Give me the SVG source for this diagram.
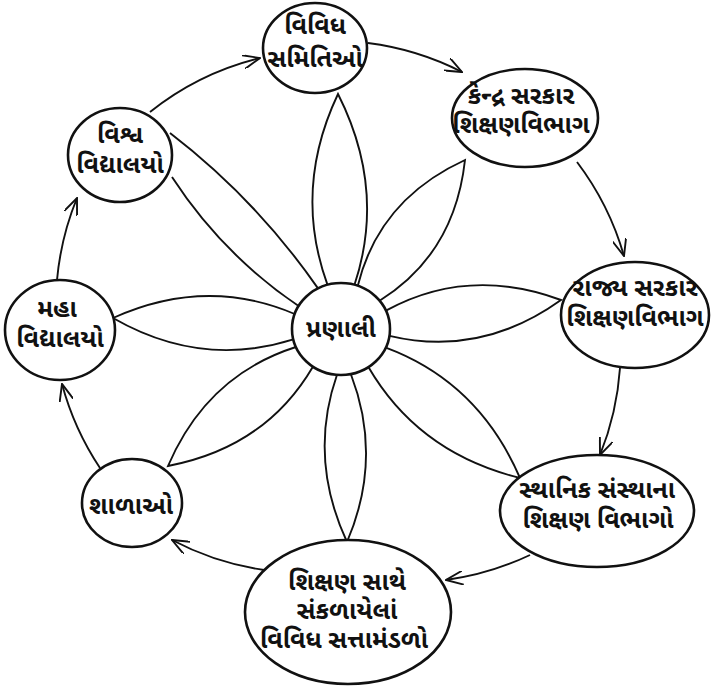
<svg xmlns="http://www.w3.org/2000/svg" width="715" height="691" viewBox="0 0 715 691">
<defs>
<marker id="arr" markerUnits="userSpaceOnUse" viewBox="0 0 18 14" refX="17" refY="7" markerWidth="18" markerHeight="14" orient="auto">
<path d="M0,0 L17,7 L0,14" fill="none" stroke="#111" stroke-width="1.9"/>
</marker>
</defs>
<style>
.bg{fill:#fff}
.node{fill:#fff;stroke:#111;stroke-width:2.6}
.petal{fill:none;stroke:#111;stroke-width:1.9}
.ring{fill:none;stroke:#111;stroke-width:1.9;marker-end:url(#arr)}
.t{font-family:"Noto Sans Gujarati","Lohit Gujarati","Noto Sans","DejaVu Sans",sans-serif;font-size:25px;font-weight:700;fill:#111;text-anchor:middle}
</style>
<rect class="bg" width="715" height="691"/>
<g id="connectors">
<path class="petal" d="M327.5,284.8 Q292.75,189.4 338,94 Q386.25,189.4 354.5,284.8"/>
<path class="petal" d="M357.8,285.8 Q379,199.4 465,160 Q454.7,253.9 379.6,300.7"/>
<path class="petal" d="M385.9,310.7 Q468.2,265.7 561,300 Q480.5,357.6 389.5,335.8"/>
<path class="petal" d="M385.8,347.7 Q478.6,382.2 520,478 Q418.5,453.2 368.4,367.1"/>
<path class="petal" d="M351,374.5 Q383,458 347,542 Q308,458 337,374.8"/>
<path class="petal" d="M312.9,366.7 Q265.6,447.4 168,466 Q206.8,375.4 295.9,347"/>
<path class="petal" d="M293.3,339.4 Q201.1,368.6 113,318 Q205.9,276.1 294.7,314"/>
<path class="petal" d="M318,288.4 Q256,199 170,133"/>
<path class="petal" d="M298.6,306 Q222,254 172,177"/>
<path class="ring" d="M150,112 A285,285 0 0 1 260,58"/>
<path class="ring" d="M368,43 A285,285 0 0 1 462,72"/>
<path class="ring" d="M577,162 A285,285 0 0 1 624,256"/>
<path class="ring" d="M620,368 A285,285 0 0 1 600,455"/>
<path class="ring" d="M530,555 A285,285 0 0 1 446,580"/>
<path class="ring" d="M264,570 A285,285 0 0 1 172,540"/>
<path class="ring" d="M100,468 A285,285 0 0 1 62,384"/>
<path class="ring" d="M57,280 A285,285 0 0 1 77,198"/>
</g>
<g id="center">
<ellipse class="node" cx="341" cy="329" rx="49" ry="46"/>
<text class="t" x="341" y="337">પ્રણાલી</text>
</g>
<g id="vividh-samitio">
<ellipse class="node" cx="315" cy="48" rx="52" ry="45"/>
<text class="t" x="315" y="34">વિવિધ</text>
<text class="t" x="315" y="67">સમિતિઓ</text>
</g>
<g id="kendra-sarkar">
<ellipse class="node" cx="525" cy="118" rx="73" ry="49"/>
<text class="t" x="521" y="104">કેન્દ્ર સરકાર</text>
<text class="t" x="521" y="133">શિક્ષણવિભાગ</text>
</g>
<g id="rajya-sarkar">
<ellipse class="node" cx="635" cy="315" rx="74" ry="53"/>
<text class="t" x="635" y="296">રાજ્ય સરકાર</text>
<text class="t" x="635" y="326">શિક્ષણવિભાગ</text>
</g>
<g id="sthanik-sanstha">
<ellipse class="node" cx="597" cy="511" rx="97" ry="56"/>
<text class="t" x="597" y="498">સ્થાનિક સંસ્થાના</text>
<text class="t" x="598" y="528">શિક્ષણ વિભાગો</text>
</g>
<g id="sattamandalo">
<ellipse class="node" cx="348" cy="612" rx="103" ry="72"/>
<text class="t" x="347" y="590">શિક્ષણ સાથે</text>
<text class="t" x="347" y="619">સંકળાયેલાં</text>
<text class="t" x="344" y="648">વિવિધ સત્તામંડળો</text>
</g>
<g id="shalao">
<ellipse class="node" cx="132" cy="503" rx="50" ry="44"/>
<text class="t" x="131" y="514">શાળાઓ</text>
</g>
<g id="maha-vidyalayo">
<ellipse class="node" cx="60" cy="330" rx="55" ry="50"/>
<text class="t" x="57" y="317">મહા</text>
<text class="t" x="60" y="347">વિદ્યાલયો</text>
</g>
<g id="vishwa-vidyalayo">
<ellipse class="node" cx="120" cy="155" rx="52" ry="47"/>
<text class="t" x="120" y="143">વિશ્વ</text>
<text class="t" x="120" y="173">વિદ્યાલયો</text>
</g>
</svg>
